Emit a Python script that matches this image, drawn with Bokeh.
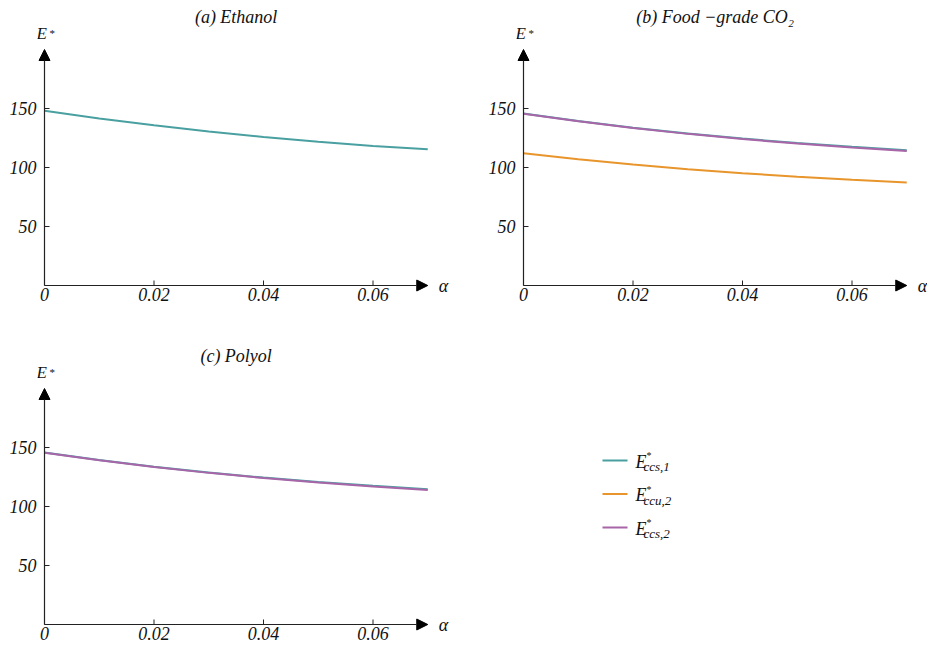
from bokeh.plotting import figure
from bokeh.models import Arrow, NormalHead, Label, FixedTicker, Range1d
from bokeh.layouts import column, row
from bokeh.embed import file_html
from bokeh.resources import INLINE

# ---------------- data ----------------
alpha = [0.0, 0.01, 0.02, 0.03, 0.04, 0.05, 0.06, 0.07]

ethanol_ccs1 = [148.0, 141.5, 135.8, 130.6, 125.9, 121.8, 118.3, 115.4]

food_ccs1 = [145.8, 139.4, 133.7, 128.8, 124.5, 120.8, 117.5, 114.6]
food_ccu2 = [112.0, 107.0, 102.5, 98.6, 95.2, 92.2, 89.6, 87.3]
food_ccs2 = [145.5, 139.2, 133.4, 128.5, 124.1, 120.3, 116.9, 113.9]

polyol_ccs1 = [145.8, 139.4, 133.7, 128.8, 124.5, 120.8, 117.5, 114.7]
polyol_ccs2 = [145.5, 139.2, 133.4, 128.5, 124.1, 120.3, 116.9, 113.9]

x_ticks = [0, 0.02, 0.04, 0.06]
x_tick_labels = ["0", "0.02", "0.04", "0.06"]
y_ticks = [50, 100, 150]
y_tick_labels = ["50", "100", "150"]

titles = ["(a) Ethanol", "(b) Food \u2212grade CO\u2082", "(c) Polyol"]
series_subs = ["ccs,1", "ccu,2", "ccs,2"]
series_colors = ["#4aa0a0", "#e8952c", "#a865a8"]

# axis extents (arrow tips)
X_MAX = 0.07
Y_MAX = 200.0

# ---------------- layout constants (pixels) ----------------
FONT = "Liberation Serif"
AXC = "#222222"
TXT = "#111111"
PX_PER_X = 109.5 / 0.02     # horizontal pixels per unit of alpha
PX_PER_Y = 59.0 / 50.0      # vertical pixels per unit of E*
PAD = 7                     # frame padding left of / below the origin
TOP_B = 6                   # top border
FRAME_H = 286               # frame height
ORIGIN_FROM_TOP = 279       # origin distance from frame top


def make_panel(title, series, width, height, left_border, frame_w):
    x0 = -PAD / PX_PER_X
    x1 = (frame_w - PAD) / PX_PER_X
    y0 = -PAD / PX_PER_Y
    y1 = ORIGIN_FROM_TOP / PX_PER_Y
    p = figure(width=width, height=height,
               x_range=Range1d(x0, x1), y_range=Range1d(y0, y1),
               output_backend="svg", toolbar_location=None,
               min_border_left=left_border, min_border_top=TOP_B,
               min_border_right=width - left_border - frame_w,
               min_border_bottom=height - TOP_B - FRAME_H)
    p.outline_line_color = None
    p.background_fill_color = "white"
    p.border_fill_color = "white"
    p.grid.visible = False
    for ax in (p.xaxis[0], p.yaxis[0]):
        ax.axis_line_color = None
        ax.major_tick_line_color = None
        ax.minor_tick_line_color = None
        ax.major_tick_in = 0
        ax.major_tick_out = 0
        ax.major_label_text_font = FONT
        ax.major_label_text_font_style = "italic"
        ax.major_label_text_font_size = "18px"
        ax.major_label_text_color = TXT
    p.xaxis.ticker = FixedTicker(ticks=x_ticks)
    p.xaxis.major_label_overrides = {t: s for t, s in zip(x_ticks, x_tick_labels)}
    p.xaxis.major_label_standoff = -5
    p.yaxis.ticker = FixedTicker(ticks=y_ticks)
    p.yaxis.major_label_overrides = {t: s for t, s in zip(y_ticks, y_tick_labels)}
    p.yaxis.major_label_standoff = 1

    for ys, col in series:
        p.line(alpha, ys, line_color=col, line_width=2)

    # inward tick marks at the origin axes
    p.ray(x=[0] * len(y_ticks), y=y_ticks, length=5, angle=0,
          length_units="screen", line_color=AXC, line_width=1)
    p.ray(x=x_ticks, y=[0] * len(x_ticks), length=5, angle=1.5707963,
          length_units="screen", line_color=AXC, line_width=1)

    # axes with arrow heads
    p.add_layout(Arrow(x_start=0, y_start=0, x_end=X_MAX, y_end=0,
                       line_color=AXC, line_width=1.2,
                       end=NormalHead(size=11, fill_color="black", line_color="black")))
    p.add_layout(Arrow(x_start=0, y_start=0, x_end=0, y_end=Y_MAX,
                       line_color=AXC, line_width=1.2,
                       end=NormalHead(size=11, fill_color="black", line_color="black")))

    # title
    p.add_layout(Label(x=X_MAX / 2, y=Y_MAX, y_offset=33, text=title,
                       text_align="center", text_baseline="middle",
                       text_font=FONT, text_font_style="italic",
                       text_font_size="18px", text_color=TXT))
    # axis labels
    p.add_layout(Label(x=0, y=Y_MAX, x_offset=-8, y_offset=16, text="E",
                       text_align="left", text_baseline="middle",
                       text_font=FONT, text_font_style="italic",
                       text_font_size="17px", text_color=TXT))
    p.add_layout(Label(x=0, y=Y_MAX, x_offset=5, y_offset=17, text="*",
                       text_align="left", text_baseline="middle",
                       text_font=FONT, text_font_size="11px", text_color=TXT))
    p.add_layout(Label(x=X_MAX, y=0, x_offset=11, y_offset=0, text="\u03b1",
                       text_align="left", text_baseline="middle",
                       text_font=FONT, text_font_style="italic",
                       text_font_size="18px", text_color=TXT))
    return p


TOP_H = 339
BOT_H = 645 - TOP_H
LEFT_W = 479
RIGHT_W = 927 - LEFT_W

pa = make_panel(titles[0], [(ethanol_ccs1, series_colors[0])],
                LEFT_W, TOP_H, 37, 413)
pb = make_panel(titles[1], [(food_ccs1, series_colors[0]), (food_ccu2, series_colors[1]),
                            (food_ccs2, series_colors[2])],
                RIGHT_W, TOP_H, 37, RIGHT_W - 37)
pc = make_panel(titles[2], [(polyol_ccs1, series_colors[0]), (polyol_ccs2, series_colors[2])],
                927, BOT_H, 37, 927 - 37)

# legend, placed in panel (c)'s frame to the right of its plot (pixel offsets from origin)
LEG_X_PX, LEG_Y_PX, LEG_DY_PX, LEG_LEN_PX = 558, 164, 33.5, 25
for i, (sub, col) in enumerate(zip(series_subs, series_colors)):
    lx0 = LEG_X_PX / PX_PER_X
    lx1 = (LEG_X_PX + LEG_LEN_PX) / PX_PER_X
    ly = (LEG_Y_PX - i * LEG_DY_PX) / PX_PER_Y
    pc.line([lx0, lx1], [ly, ly], line_color=col, line_width=2)
    pc.add_layout(Label(x=lx0, y=ly, x_offset=33, y_offset=-1, text="E",
                        text_align="left", text_baseline="middle", text_font=FONT,
                        text_font_style="italic", text_font_size="18px",
                        text_color=TXT))
    pc.add_layout(Label(x=lx0, y=ly, x_offset=44, y_offset=5, text="*",
                        text_align="left", text_baseline="middle", text_font=FONT,
                        text_font_size="10px", text_color=TXT))
    pc.add_layout(Label(x=lx0, y=ly, x_offset=41, y_offset=-6, text=sub,
                        text_align="left", text_baseline="middle", text_font=FONT,
                        text_font_style="italic", text_font_size="13px",
                        text_color=TXT))

layout = column(row(pa, pb), pc)

open("out.html", "w").write(file_html(layout, INLINE))
